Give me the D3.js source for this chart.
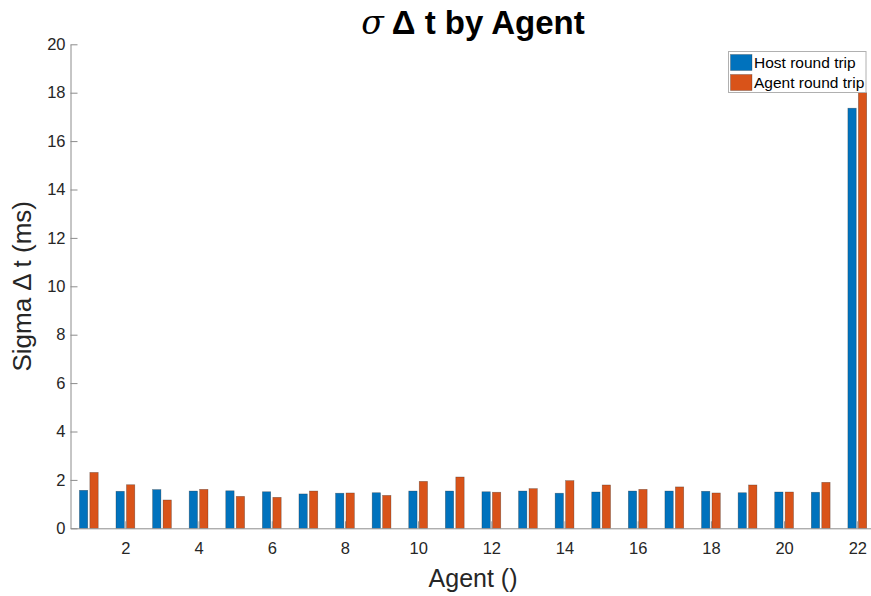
<!DOCTYPE html>
<html><head><meta charset="utf-8">
<script src="https://cdn.jsdelivr.net/npm/d3@7"></script>
<style>body{margin:0;background:#fff;} svg{display:block;font-family:"Liberation Sans",Arial,sans-serif;}</style>
</head><body>
<svg id="chart" width="871" height="596"></svg>
<script>
const agents = d3.range(1, 23);
const hostRoundTrip = [1.57,1.53,1.60,1.54,1.55,1.51,1.42,1.45,1.47,1.54,1.54,1.51,1.54,1.45,1.50,1.54,1.54,1.53,1.47,1.50,1.49,17.36];
const agentRoundTrip = [2.31,1.80,1.17,1.61,1.32,1.28,1.54,1.46,1.36,1.94,2.12,1.49,1.64,1.97,1.79,1.61,1.71,1.46,1.79,1.50,1.90,18.0];
const seriesNames = ["Host round trip", "Agent round trip"];
const colors = ["#0072BD", "#D95319"];
const xTicks = [2,4,6,8,10,12,14,16,18,20,22];
const yTicks = [0,2,4,6,8,10,12,14,16,18,20];

const svg = d3.select("#chart");
const x = d3.scaleLinear().domain([0.5, 22.5]).range([70.5, 875.6]);
const y = d3.scaleLinear().domain([0, 20]).range([528.3, 44.3]);
const off = [-0.143, 0.143], bw = 0.114;
const series = [hostRoundTrip, agentRoundTrip];

series.forEach((vals, s) => {
  svg.append("g").selectAll("rect").data(vals).enter().append("rect")
    .attr("x", (d, i) => x(agents[i] + off[s] - bw))
    .attr("width", (d, i) => x(agents[i] + off[s] + bw) - x(agents[i] + off[s] - bw))
    .attr("y", d => y(d))
    .attr("height", d => y(0) - y(d))
    .attr("fill", colors[s])
    .attr("stroke", "#222").attr("stroke-opacity", 0.45).attr("stroke-width", 0.6);
});

const axisCol = "#8c8c8c", textCol = "#262626";
const gx = svg.append("g").attr("transform", `translate(0,${y(0)})`)
  .call(d3.axisBottom(x).tickValues(xTicks).tickSize(-7).tickPadding(14).tickSizeOuter(0));
const gy = svg.append("g").attr("transform", `translate(${x(0.5)},0)`)
  .call(d3.axisLeft(y).tickValues(yTicks).tickSize(-7).tickPadding(5).tickSizeOuter(0));
[gx, gy].forEach(g => {
  g.select(".domain").attr("stroke", axisCol).attr("stroke-width", 1);
  g.selectAll(".tick line").attr("stroke", axisCol);
  g.selectAll(".tick text").attr("fill", textCol).style("font-size", "16.5px").style("font-family", "Liberation Sans, Arial, sans-serif");
});

svg.append("text").attr("x", x(11.5)).attr("y", 587).attr("text-anchor", "middle")
  .style("font-size", "25px").attr("fill", textCol).text("Agent ()");
svg.append("text").attr("transform", `translate(31,${(y(0)+y(20))/2}) rotate(-90)`).attr("text-anchor", "middle")
  .style("font-size", "26px").attr("fill", textCol).text("Sigma \u0394 t (ms)");
const title = svg.append("text").attr("x", x(11.5)).attr("y", 34).attr("text-anchor", "middle")
  .style("font-size", "33px").style("font-weight", "bold").attr("fill", "#000");
title.append("tspan").style("font-style", "italic").style("font-weight", "normal").style("font-family", "DejaVu Serif, serif").text("\u03C3");
title.append("tspan").text(" \u0394");
title.append("tspan").text(" t by Agent");

const lg = svg.append("g");
lg.append("rect").attr("x", 728.5).attr("y", 51.5).attr("width", 137.5).attr("height", 41)
  .attr("fill", "#fff").attr("stroke", "#b0b0b0").attr("stroke-width", 1);
seriesNames.forEach((n, i) => {
  lg.append("rect").attr("x", 730.5).attr("y", 54.5 + i * 20).attr("width", 21.5).attr("height", 16)
    .attr("fill", colors[i]).attr("stroke", "#222").attr("stroke-opacity", 0.45).attr("stroke-width", 0.6);
  lg.append("text").attr("x", 754).attr("y", 68 + i * 20).style("font-size", "15.5px").attr("fill", "#000").text(n);
});
</script>
</body></html>
